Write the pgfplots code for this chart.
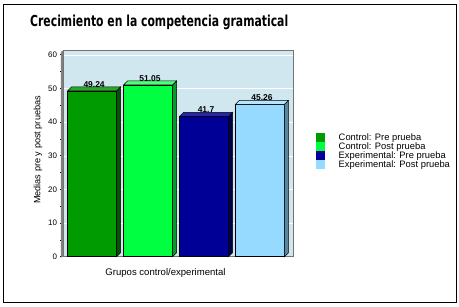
\documentclass[border=0pt]{standalone}
\usepackage{pgfplots}
\pgfplotsset{compat=1.18}
\usepackage{fontspec}
\setmainfont{Liberation Sans}
\newfontfamily\titlefont{DejaVu Sans}
\definecolor{cA}{RGB}{0,155,0}
\definecolor{cAs}{RGB}{0,85,0}
\definecolor{cB}{RGB}{0,255,64}
\definecolor{cBs}{RGB}{0,160,40}
\definecolor{cC}{RGB}{0,0,150}
\definecolor{cCs}{RGB}{0,0,80}
\definecolor{cD}{RGB}{150,218,255}
\definecolor{cDs}{RGB}{90,135,160}
\definecolor{bgblue}{RGB}{208,231,240}
\pgfplotsset{
  threed/.style 2 args={only marks, scatter, mark=*, mark size=1pt, forget plot,
    visualization depends on={rawy \as \myy},
    scatter/@pre marker code/.code={%
      \pgfmathsetmacro\hh{\myy*3.366}%
      \filldraw[fill=#1, draw=black, line width=0.5bp] (24.5bp,0bp) -- (28.5bp,4bp) -- (28.5bp,4bp-\hh bp) -- (24.5bp,-\hh bp) -- cycle;
      \filldraw[fill=#2, draw=black, line width=0.5bp] (-24.5bp,0bp) -- (-20.5bp,4bp) -- (28.5bp,4bp) -- (24.5bp,0bp) -- cycle;
      \scope[opacity=0]},
    scatter/@post marker code/.code={\endscope},
  },
  flatbar/.style={ybar, bar shift=0pt, bar width=49bp, fill=#1, draw=black, line width=0.5bp,
    nodes near coords,
    every node near coord/.append style={font=\bfseries\fontsize{8.5}{10}\selectfont, anchor=south, xshift=2bp, yshift=3.5bp, inner sep=0pt, text=black}},
}
\begin{document}
\begin{tikzpicture}
\path[use as bounding box] (-63bp,-50.3bp) rectangle (396bp,256.7bp);
\draw[line width=0.9bp] (-60bp,-45.3bp) rectangle (393bp,252.7bp);
\begin{axis}[
  at={(0,0)}, anchor=south west,
  scale only axis, width=230bp, height=206bp,
  xmin=-0.52, xmax=3.59, ymin=0, ymax=61.2,
  xtick=\empty,
  ytick={0,10,...,60}, minor ytick={5,15,...,55},
  tick align=outside, ytick pos=left,
  major tick length=3bp, minor tick length=2.5bp,
  ytick style={black, line width=0.5bp},
  axis line style={draw=gray!90!black, line width=0.5bp},
  axis background/.style={fill=bgblue},
  ymajorgrids, major grid style={white, line width=0.4bp},
  tick label style={font=\fontsize{8}{9}\selectfont},
  yticklabel style={xshift=0.5bp},
  /pgf/number format/assume math mode=true,
  ylabel={Medias pre y post pruebas},
  ylabel style={at={(axis description cs:-0.109,0.518)}, anchor=center, font=\fontsize{9.2}{11}\selectfont},
  xlabel={Grupos control/experimental},
  xlabel style={at={(axis description cs:0.4457,-0.079)}, anchor=center, font=\fontsize{9.6}{11}\selectfont},
  legend style={at={(1.098,0.602)}, anchor=north west, draw=none, fill=none, inner sep=0pt,
    font=\fontsize{9.4}{10}\selectfont, row sep=-1.4bp, column sep=13bp,
    nodes={inner sep=1bp}},
  legend cell align=left,
  legend image code/.code={\fill[#1, draw=none] (0bp,-4.6bp) rectangle (9bp,4.6bp);},
]
\addplot[threed={cAs}{cA!85!white}] coordinates {(0,49.24)};
\addplot[threed={cBs}{cB!70!white}] coordinates {(1,51.05)};
\addplot[threed={cCs}{cC!85!white}] coordinates {(2,41.7)};
\addplot[threed={cDs}{cD!70!white}] coordinates {(3,45.26)};
\addplot[flatbar=cA] coordinates {(0,49.24)};
\addlegendentry{Control: Pre prueba}
\addplot[flatbar=cB] coordinates {(1,51.05)};
\addlegendentry{Control: Post prueba}
\addplot[flatbar=cC] coordinates {(2,41.7)};
\addlegendentry{Experimental: Pre prueba}
\addplot[flatbar=cD] coordinates {(3,45.26)};
\addlegendentry{Experimental: Post prueba}
\end{axis}
\fill[gray] (-2bp,-1bp) -- (0bp,0bp) -- (0bp,206bp) -- (-2bp,205bp) -- cycle;
\node[anchor=base west, inner sep=0pt] at (-33bp,230.4bp) {\resizebox{258bp}{11.5bp}{\titlefont\bfseries Crecimiento en la competencia gramatical}};
\end{tikzpicture}
\end{document}
